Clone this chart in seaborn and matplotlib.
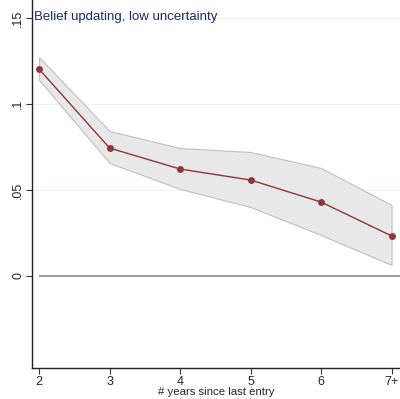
import matplotlib
matplotlib.use("Agg")
import matplotlib.pyplot as plt
import seaborn as sns
import pandas as pd

years = [2, 3, 4, 5, 6, 7]
tick_labels = ["2", "3", "4", "5", "6", "7+"]
coef = [0.1203, 0.0744, 0.0622, 0.0558, 0.0430, 0.0233]
ci_upper = [0.1273, 0.0843, 0.0744, 0.0721, 0.0628, 0.0413]
ci_lower = [0.1140, 0.0657, 0.0506, 0.0401, 0.0238, 0.0064]
y_ticks = [0, 0.05, 0.1, 0.15]
y_tick_labels = ["0", ".05", ".1", ".15"]

sns.set_style("white")
plt.rcParams['font.family'] = ['Liberation Sans', 'DejaVu Sans']

df = pd.DataFrame({"years": years, "coef": coef, "lo": ci_lower, "hi": ci_upper})

fig = plt.figure(figsize=(4.0, 3.99), dpi=100)
ax = fig.add_axes([0.08, 0.077, 0.92, 0.923])

for yv in [0.05, 0.1, 0.15]:
    ax.axhline(yv, color="#eaf2f3", lw=0.8, zorder=0)
ax.hlines(0, 2, 7.12, color="#8c8c8c", lw=1.2, zorder=1)

ax.fill_between(df["years"], df["lo"], df["hi"], color="#e8e8e8",
                edgecolor="#c0c0c0", linewidth=0.8, zorder=2)
sns.lineplot(data=df, x="years", y="coef", ax=ax, color="#90353b", lw=1.0,
             marker="o", markersize=5, markeredgewidth=0, zorder=3)

ax.set_xlim(1.9, 7.12)
ax.set_ylim(-0.0537, 0.1605)
ax.set_xticks(years)
ax.set_xticklabels(tick_labels)
ax.set_yticks(y_ticks)
ax.set_yticklabels(y_tick_labels, rotation=90, va="center")
ax.tick_params(axis="both", labelsize=9, length=4, width=0.8, color="#333333",
               direction="out", left=True, bottom=True, pad=1.5)
ax.set_xlabel("# years since last entry", fontsize=8.2, labelpad=-0.5)
ax.set_ylabel("")
for s in ["top", "right"]:
    ax.spines[s].set_visible(False)
for s in ["left", "bottom"]:
    ax.spines[s].set_color("#222222")
    ax.spines[s].set_linewidth(1.0)

ax.text(0.005, 0.97, "Belief updating, low uncertainty", transform=ax.transAxes,
        ha="left", va="top", fontsize=9.5, color="#1c2d5a")

fig.savefig("out.png", dpi=100)
